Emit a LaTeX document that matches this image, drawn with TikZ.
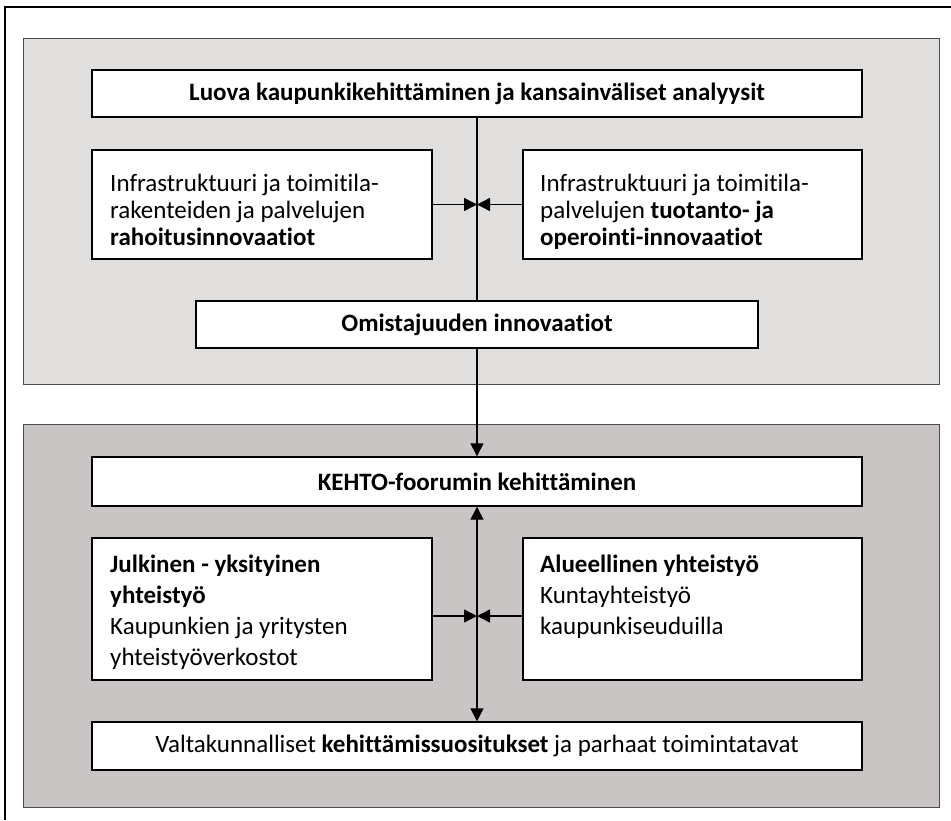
\documentclass[tikz,border=0pt]{standalone}
\usepackage{fontspec}
\setmainfont{Carlito}[Ligatures={NoCommon,NoContextual},RawFeature={-liga;-clig;-calt;-dlig;-ccmp;-rlig}]
\usetikzlibrary{arrows.meta}
\definecolor{panelA}{RGB}{224,223,222}
\definecolor{panelB}{RGB}{201,197,196}
\begin{document}
\begin{tikzpicture}[x=1pt,y=-1pt,
  panel/.style={draw=black!70,line width=0.8pt},
  box/.style={draw=black,line width=1.4pt,fill=white,inner sep=0pt,align=center},
  txt/.style={inner sep=0pt,align=left,anchor=north west},
  conn/.style={line width=1.4pt},
  tip/.style={-{Triangle[length=13pt,width=13pt]}},
  dtip/.style={{Triangle[length=13pt,width=13pt]}-{Triangle[length=13pt,width=13pt]}},
  bigfont/.style={font=\fontsize{25}{27}\selectfont},
  lowfont/.style={font=\fontsize{25}{31}\selectfont}]
\useasboundingbox (0,0) rectangle (951,820);
% outer frame
\draw[line width=1.4pt] (5,820) -- (5,7) -- (951,7);
% panels
\draw[panel,fill=panelA] (23,38) rectangle (939,384);
\draw[panel,fill=panelB] (23,424) rectangle (939,807);

% upper group
\node[box,bigfont,minimum width=770pt,minimum height=47pt] (title) at (477,93.5)
  {\bfseries Luova kaupunkikehittäminen ja kansainväliset analyysit};
\node[box,minimum width=340pt,minimum height=109pt] (fin) at (262,204.5) {};
\node[txt,bigfont] (fintext) at (110,174)
  {Infrastruktuuri ja toimitila-\\rakenteiden ja palvelujen\\\textbf{rahoitusinnovaatiot}};
\node[box,minimum width=339pt,minimum height=109pt] (ops) at (692.5,204.5) {};
\node[txt,bigfont] (opstext) at (540,174)
  {Infrastruktuuri ja toimitila-\\palvelujen \textbf{tuotanto- ja}\\\textbf{operointi-innovaatiot}};
\node[box,bigfont,minimum width=562pt,minimum height=47pt] (own) at (477,324.5)
  {\bfseries Omistajuuden innovaatiot};
\coordinate (j1) at (477,204.5);
\draw[conn] (title.south) -- (own.north);
\draw[conn,tip] (fin.east) -- (j1);
\draw[conn,tip] (ops.west) -- (j1);

% lower group
\node[box,bigfont,minimum width=770pt,minimum height=49pt] (kehto) at (477,481.5)
  {\bfseries KEHTO-foorumin kehittäminen};
\node[box,minimum width=340pt,minimum height=142pt] (ppp) at (262,609) {};
\node[txt,lowfont] (ppptext) at (110,555)
  {\textbf{Julkinen - yksityinen}\\\textbf{yhteistyö}\\Kaupunkien ja yritysten\\yhteistyöverkostot};
\node[box,minimum width=339pt,minimum height=142pt] (reg) at (692.5,609) {};
\node[txt,lowfont] (regtext) at (540,555)
  {\textbf{Alueellinen yhteistyö}\\Kuntayhteistyö\\kaupunkiseuduilla};
\node[box,bigfont,minimum width=770pt,minimum height=48pt] (rec) at (477,746)
  {Valtakunnalliset \textbf{kehittämissuositukset} ja parhaat toimintatavat};
\coordinate (j2) at (477,616);
\draw[conn,tip] (own.south) -- (kehto.north);
\draw[conn,dtip] (kehto.south) -- (rec.north);
\draw[conn,tip] (ppp.east |- j2) -- (j2);
\draw[conn,tip] (reg.west |- j2) -- (j2);
\end{tikzpicture}
\end{document}
